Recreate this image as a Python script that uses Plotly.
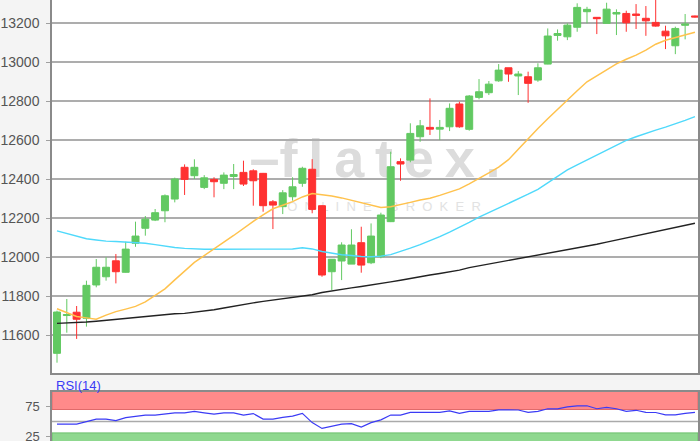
import plotly.graph_objects as go

# ---------------- data ----------------
opens = [11506, 11700, 11717, 11686, 11857, 11899, 11981, 11922, 12071, 12148,
         12190, 12238, 12298, 12461, 12418, 12358, 12399, 12379, 12414, 12435,
         12443, 12430, 12284, 12259, 12310, 12379, 12451, 12264, 11925, 11980,
         11964, 12074, 11971, 12002, 12182, 12490, 12498, 12618, 12666, 12657,
         12669, 12786, 12656, 12820, 12844, 12905, 12972, 12930, 12926, 12909,
         12991, 13138, 13131, 13180, 13260, 13231, 13200, 13248, 13251, 13248,
         13226, 13205, 13160, 13085, 13190, 13238]
highs = [11725, 11785, 11749, 11879, 11990, 11999, 12016, 12079, 12182, 12211,
         12247, 12322, 12408, 12476, 12502, 12421, 12410, 12435, 12478, 12495,
         12451, 12432, 12293, 12344, 12410, 12464, 12503, 12266, 11990, 12076,
         12143, 12156, 12173, 12228, 12541, 12507, 12687, 12704, 12815, 12704,
         12789, 12798, 12832, 12914, 12904, 12991, 12972, 12955, 12952, 12995,
         13174, 13169, 13200, 13303, 13285, 13231, 13306, 13272, 13265, 13299,
         13289, 13340, 13188, 13183, 13248, 13240]
lows = [11458, 11612, 11580, 11643, 11845, 11879, 11865, 11920, 12053, 12110,
        12185, 12179, 12281, 12319, 12401, 12349, 12307, 12349, 12349, 12365,
        12264, 12233, 12144, 12221, 12290, 12361, 12225, 11899, 11831, 11882,
        11964, 11920, 11964, 11994, 12180, 12392, 12487, 12592, 12627, 12601,
        12647, 12664, 12649, 12810, 12832, 12900, 12900, 12832, 12792, 12900,
        12990, 13111, 13114, 13157, 13200, 13145, 13200, 13140, 13157, 13171,
        13136, 13183, 13068, 13042, 13118, 13230]
closes = [11718, 11705, 11681, 11855, 11948, 11948, 11925, 12041, 12108, 12195,
          12228, 12315, 12401, 12399, 12461, 12407, 12387, 12421, 12424, 12375,
          12392, 12264, 12267, 12330, 12361, 12456, 12245, 11908, 11989, 12062,
          12062, 11959, 12108, 12216, 12464, 12478, 12635, 12674, 12657, 12666,
          12764, 12669, 12827, 12849, 12888, 12960, 12940, 12940, 12892, 12972,
          13135, 13148, 13191, 13282, 13272, 13224, 13273, 13256, 13203, 13241,
          13213, 13186, 13136, 13174, 13197, 13233]

ma_fast = [11735, 11714, 11695, 11688, 11681, 11702, 11720, 11733, 11747, 11770,
           11802, 11837, 11883, 11929, 11973, 12008, 12044, 12077, 12111, 12148,
           12184, 12217, 12248, 12266, 12285, 12309, 12326, 12320, 12314, 12304,
           12291, 12279, 12266, 12255, 12258, 12268, 12281, 12293, 12302, 12317,
           12333, 12350, 12376, 12402, 12432, 12462, 12500, 12554, 12608, 12660,
           12710, 12759, 12808, 12854, 12900, 12931, 12961, 12992, 13016, 13037,
           13063, 13093, 13113, 13127, 13141, 13154]
ma_mid = [12135, 12121, 12107, 12094, 12088, 12082, 12080, 12077, 12074, 12071,
          12064, 12056, 12049, 12045, 12041, 12040, 12040, 12040, 12041, 12041,
          12041, 12040, 12040, 12041, 12042, 12048, 12042, 12029, 12019, 12012,
          12008, 12003, 12002, 12005, 12013, 12028, 12046, 12064, 12083, 12105,
          12128, 12151, 12178, 12205, 12228, 12251, 12274, 12299, 12323, 12348,
          12380, 12414, 12448, 12473, 12498, 12523, 12549, 12574, 12599, 12618,
          12636, 12652, 12667, 12683, 12702, 12721]
ma_slow = [11660, 11662, 11663, 11667, 11671, 11676, 11680, 11685, 11689, 11693,
           11699, 11706, 11709, 11711, 11717, 11723, 11730, 11739, 11749, 11758,
           11765, 11773, 11780, 11787, 11794, 11800, 11807, 11818, 11827, 11835,
           11842, 11849, 11856, 11864, 11873, 11881, 11891, 11899, 11908, 11916,
           11925, 11933, 11946, 11955, 11964, 11973, 11982, 11991, 12000, 12009,
           12018, 12028, 12037, 12047, 12056, 12066, 12077, 12088, 12099, 12110,
           12121, 12131, 12142, 12153, 12164, 12174]
rsi = [45.7, 45.7, 45.7, 49.8, 54.0, 54.0, 51.5, 56.5, 58.5, 60.7,
       60.7, 62.3, 64.5, 64.5, 66.8, 64.5, 62.3, 64.5, 64.5, 60.7,
       63.2, 54.0, 54.0, 56.8, 59.0, 63.5, 48.2, 38.5, 41.5, 45.7,
       46.5, 40.7, 48.2, 52.8, 60.7, 60.7, 65.2, 65.2, 65.2, 65.2,
       67.8, 63.7, 66.8, 66.8, 66.8, 69.5, 69.5, 69.2, 65.2, 66.8,
       71.2, 71.2, 74.3, 76.2, 76.2, 71.3, 73.5, 71.2, 67.0, 68.7,
       65.2, 65.0, 61.2, 61.2, 63.5, 65.2]

price_ticks = [11600, 11800, 12000, 12200, 12400, 12600, 12800, 13000, 13200]
rsi_ticks = [25, 75]
rsi_upper = 70
rsi_lower = 31
rsi_mid = 50

idx = list(range(len(opens)))

# ---------------- style ----------------
GREEN = "#62c962"
RED = "#ff3131"
W, H = 700, 441
L, R = 52, 2
PW = W - L - R
NB = "\u00a0"


def px(xp):
    return (xp - L) / PW


def py(yp):
    return 1 - yp / H


fig = go.Figure()
fig.add_trace(go.Scatter(x=idx, y=ma_slow, mode="lines",
                         line=dict(color="#222222", width=1.4), xaxis="x", yaxis="y"))
fig.add_trace(go.Scatter(x=idx, y=ma_mid, mode="lines",
                         line=dict(color="#4fd9fb", width=1.4), xaxis="x", yaxis="y"))
fig.add_trace(go.Scatter(x=idx, y=ma_fast, mode="lines",
                         line=dict(color="#ffc24d", width=1.5), xaxis="x", yaxis="y"))
fig.add_trace(go.Candlestick(
    x=idx, open=opens, high=highs, low=lows, close=closes,
    increasing=dict(line=dict(color=GREEN, width=1), fillcolor=GREEN),
    decreasing=dict(line=dict(color=RED, width=1), fillcolor=RED),
    whiskerwidth=0, xaxis="x", yaxis="y"))
fig.add_trace(go.Scatter(x=idx, y=rsi, mode="lines",
                         line=dict(color="#3b3bf5", width=1.2), xaxis="x2", yaxis="y2"))

xr = [-0.509, 65.31]
axis_line = dict(showline=True, linecolor="#8a8a8a", linewidth=1.5, zeroline=False,
                 automargin=False)

logo = "–f" + "\u2009" + "\u2009".join(list("latex."))
broker = (NB * 2).join(list("ONLINE")) + NB * 5 + (NB * 2).join(list("BROKER"))

shapes = [
    dict(type="rect", xref="x2 domain", yref="y2", x0=0, x1=1, y0=rsi_upper, y1=100,
         fillcolor="#ff8a8a", line=dict(color="#e06a6a", width=1), layer="below"),
    dict(type="rect", xref="x2 domain", yref="y2", x0=0, x1=1, y0=0, y1=rsi_lower,
         fillcolor="#8fd88f", line=dict(color="#6cc06c", width=1), layer="below"),
    dict(type="line", xref="x2 domain", yref="y2", x0=0, x1=1, y0=rsi_mid, y1=rsi_mid,
         line=dict(color="#aaaaaa", width=1.5), layer="below"),
    dict(type="rect", xref="paper", yref="paper", x0=px(256), x1=px(494), y0=py(185), y1=py(121),
         line=dict(width=0), fillcolor="rgba(0,0,0,0)", layer="below",
         label=dict(text=logo, textposition="middle center",
                    font=dict(family="Liberation Sans", size=54, color="#dcdcdc", weight="bold"))),
    dict(type="rect", xref="paper", yref="paper", x0=px(280), x1=px(488), y0=py(213), y1=py(197),
         line=dict(width=0), fillcolor="rgba(0,0,0,0)", layer="below",
         label=dict(text=broker, textposition="middle center",
                    font=dict(family="Liberation Sans", size=13, color="#e2e2e2"))),
]

fig.update_layout(
    width=W, height=H,
    margin=dict(l=L, r=R, t=0, b=0, pad=0, autoexpand=False),
    paper_bgcolor="#f4f4f4", plot_bgcolor="white",
    showlegend=False,
    boxgap=0.29, boxgroupgap=0,
    xaxis=dict(domain=[0, 1], range=xr, anchor="y", showgrid=False, showticklabels=False,
               rangeslider=dict(visible=False), mirror=False, **axis_line),
    xaxis2=dict(domain=[0, 1], range=xr, anchor="y2", showgrid=False, showticklabels=False,
                mirror=True, **axis_line),
    yaxis=dict(domain=[1 - 373 / H, 1], range=[11405, 13320], tickvals=price_ticks,
               ticktext=[str(v) for v in price_ticks],
               gridcolor="#adadad", gridwidth=1.5, mirror=True,
               ticks="outside", ticklen=4, tickcolor="#a0a0a0", ticklabelstandoff=4,
               ticklabeloverflow="allow",
               tickfont=dict(family="Arial", size=14, color="#555555"), **axis_line),
    yaxis2=dict(domain=[0, 49.5 / H], range=[17.5, 100], tickvals=rsi_ticks,
                ticktext=[str(v) for v in rsi_ticks],
                showgrid=False, mirror=True,
                ticks="outside", ticklen=4, tickcolor="#a0a0a0", ticklabelstandoff=4,
                ticklabeloverflow="allow",
                tickfont=dict(family="Arial", size=13, color="#555555"), **axis_line),
    shapes=shapes,
    annotations=[dict(text="RSI(14)", xref="paper", yref="paper", x=px(54), y=py(385),
                      xanchor="left", yanchor="middle", showarrow=False,
                      font=dict(family="Arial", size=13, color="#3b3bf5"))],
)

fig.write_html(
    "out.html",
    config={"displayModeBar": False},
    post_script="document.body.style.margin='0';document.body.style.padding='0';"
                "document.body.style.overflow='hidden';",
)
